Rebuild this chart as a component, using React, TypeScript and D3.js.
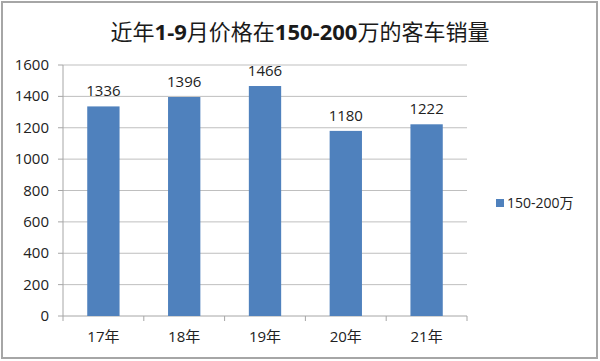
import React from "react";
import * as d3 from "d3";

const categories = ["17年", "18年", "19年", "20年", "21年"];
const values = [1336, 1396, 1466, 1180, 1222];
const yTicks = [0, 200, 400, 600, 800, 1000, 1200, 1400, 1600];
const seriesName = "150-200万";
const title = "近年1-9月价格在150-200万的客车销量";

export default function App() {
  const W = 600, H = 361;
  const left = 63, right = 467, top = 65, bottom = 316;
  const x = d3.scaleBand<string>().domain(categories).range([left, right]).paddingInner(0.6).paddingOuter(0.3);
  const y = d3.scaleLinear().domain([0, 1600]).range([bottom, top]);
  const xb = d3.scaleBand<string>().domain(categories).range([left, right]);
  const font = "'Open Sans', 'Noto Sans CJK SC', sans-serif";
  const color = "#4f81bd";
  const titleParts = title.split(/([0-9\-]+)/).filter((s) => s.length > 0);
  return (
    <svg width={W} height={H} style={{ position: "absolute", left: 0, top: 0, background: "#fff" }} fontFamily={font}>
      <rect x={2} y={2} width={W - 5} height={H - 5} fill="#fff" stroke="#a6a6a6" strokeWidth={2} />
      <text x={300} y={40} textAnchor="middle" fontSize={22} fill="#1a1a1a" fontFamily="'Noto Sans CJK SC', sans-serif">
        {titleParts.map((p, i) => (
          <tspan key={i} fontWeight={/[0-9]/.test(p) ? "bold" : "normal"}
            fontFamily={/[0-9]/.test(p) ? "'Open Sans', sans-serif" : "'Noto Sans CJK SC', sans-serif"}>{p}</tspan>
        ))}
      </text>
      {yTicks.map((t) => (
        <g key={t}>
          {t > 0 && <line x1={left} x2={right} y1={y(t)} y2={y(t)} stroke="#bfbfbf" strokeWidth={1} />}
          <line x1={left - 5} x2={left} y1={y(t)} y2={y(t)} stroke="#a6a6a6" />
          <text x={49} y={y(t) + 5} textAnchor="end" fontSize={15} fill="#222">{t}</text>
        </g>
      ))}
      <line x1={left} x2={left} y1={top} y2={bottom} stroke="#a6a6a6" />
      <line x1={left} x2={right} y1={bottom} y2={bottom} stroke="#a6a6a6" />
      {[...categories.map((c) => xb(c)!), right].map((px, i) => (
        <line key={i} x1={px} x2={px} y1={bottom} y2={bottom + 5} stroke="#a6a6a6" />
      ))}
      {categories.map((c, i) => (
        <g key={c}>
          <rect x={x(c)} y={y(values[i])} width={x.bandwidth()} height={bottom - y(values[i])} fill={color} />
          <text x={x(c)! + x.bandwidth() / 2} y={y(values[i]) - 10} textAnchor="middle" fontSize={15} fill="#222">{values[i]}</text>
          <text x={xb(c)! + xb.bandwidth() / 2} y={342} textAnchor="middle" fontSize={15} fill="#222">{c}</text>
        </g>
      ))}
      <rect x={496} y={199} width={8} height={8} fill={color} />
      <text x={507} y={208} fontSize={14} fill="#222">{seriesName}</text>
    </svg>
  );
}
